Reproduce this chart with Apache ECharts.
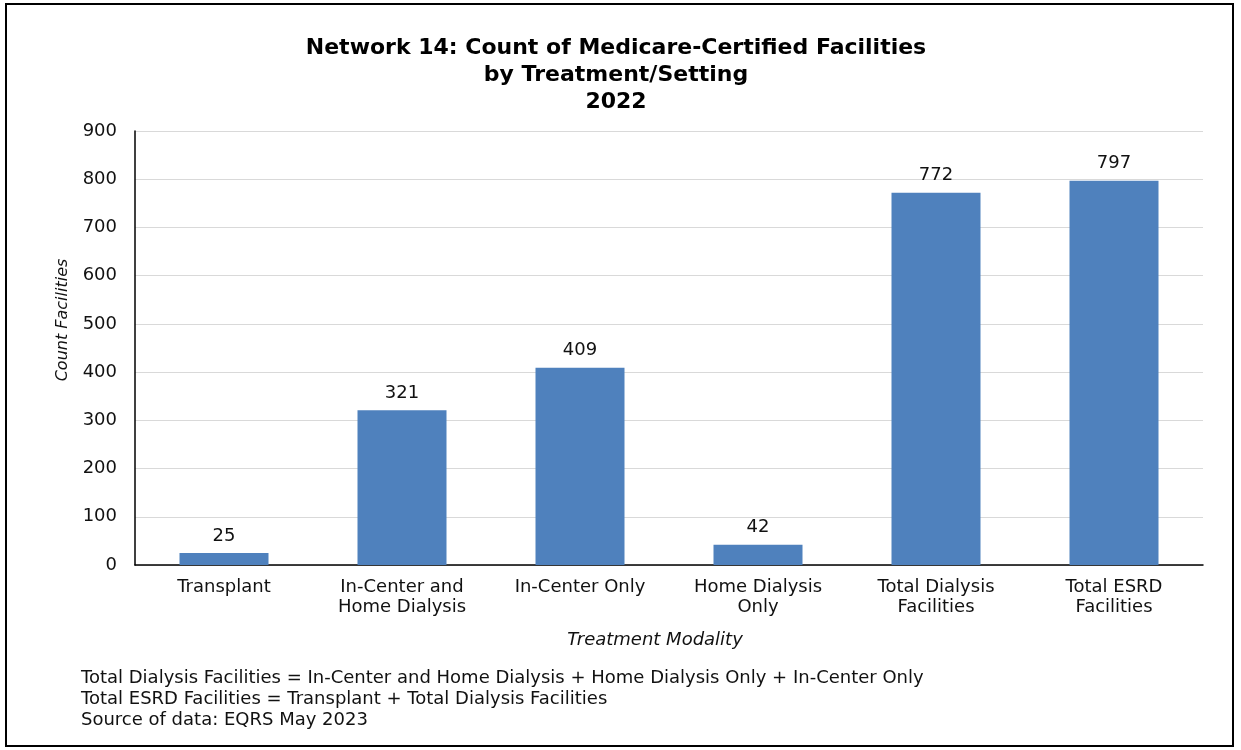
<!DOCTYPE html>
<html>
<head>
<meta charset="utf-8">
<script src="https://cdn.jsdelivr.net/npm/echarts@6/dist/echarts.min.js"></script>
<style>html,body{margin:0;padding:0;background:#fff}#c{width:1241px;height:750px}</style>
</head>
<body>
<div id="c"></div>
<script>
const categories = ["Transplant", "In-Center and\nHome Dialysis", "In-Center Only", "Home Dialysis\nOnly", "Total Dialysis\nFacilities", "Total ESRD\nFacilities"];
const counts = [25, 321, 409, 42, 772, 797];
const yTicks = { min: 0, max: 900, interval: 100 };
const titleText = "Network 14: Count of Medicare-Certified Facilities\nby Treatment/Setting\n2022";
const footnotes = [
  "Total Dialysis Facilities = In-Center and Home Dialysis + Home Dialysis Only + In-Center Only",
  "Total ESRD Facilities = Transplant + Total Dialysis Facilities",
  "Source of data: EQRS May 2023"
];
const FONT = "'DejaVu Sans', 'Liberation Sans', Arial, sans-serif";
const chart = echarts.init(document.getElementById('c'), null, {renderer: 'canvas'});
chart.setOption({
  animation: false,
  backgroundColor: '#fff',
  title: {
    text: titleText, left: 611, top: 30, textAlign: 'center',
    textStyle: { fontFamily: FONT, fontSize: 22, fontWeight: 'bold', color: '#000', lineHeight: 27 }
  },
  grid: { left: 135, right: 38, top: 131, bottom: 185, containLabel: false },
  xAxis: {
    type: 'category', data: categories,
    axisLine: { lineStyle: { color: '#000', width: 1.5 } },
    axisTick: { show: false },
    axisLabel: { fontFamily: FONT, fontSize: 18, color: '#111', lineHeight: 20, margin: 12 }
  },
  yAxis: {
    type: 'value', min: yTicks.min, max: yTicks.max, interval: yTicks.interval,
    axisLine: { show: true, lineStyle: { color: '#000', width: 1.5 } },
    axisTick: { show: false },
    splitLine: { lineStyle: { color: '#d9d9d9', width: 1 } },
    axisLabel: { fontFamily: FONT, fontSize: 18, color: '#111', margin: 18 }
  },
  series: [{
    type: 'bar', data: counts, barWidth: '50%',
    itemStyle: { color: '#4F81BD' },
    label: { show: true, position: 'top', distance: 8, fontFamily: FONT, fontSize: 18, color: '#111' }
  }],
  graphic: [
    { type: 'rect', shape: { x: 6, y: 4, width: 1227, height: 742 }, style: { fill: null, stroke: '#000', lineWidth: 2 }, silent: true },
    { type: 'text', x: 63, y: 320, rotation: Math.PI / 2, style: { text: 'Count Facilities', font: 'italic 16px ' + FONT, fill: '#111', textAlign: 'center', textVerticalAlign: 'middle' } },
    { type: 'text', x: 655, y: 640, style: { text: 'Treatment Modality', font: 'italic 18px ' + FONT, fill: '#111', textAlign: 'center', textVerticalAlign: 'middle' } },
    { type: 'text', left: 81, top: 668, style: { text: footnotes.join('\n'), font: '18px ' + FONT, fill: '#111', lineHeight: 21 } }
  ]
});
</script>
</body>
</html>
